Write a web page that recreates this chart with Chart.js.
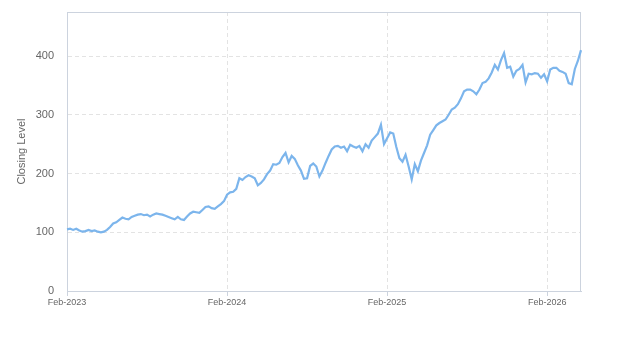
<!DOCTYPE html>
<html>
<head>
<meta charset="utf-8">
<script src="https://cdn.jsdelivr.net/npm/chart.js@4"></script>
<style>
  html, body { margin: 0; padding: 0; background: #fff; }
  #wrap { width: 623px; height: 350px; }
</style>
</head>
<body>
<div id="wrap"><canvas id="myChart" width="623" height="350"></canvas></div>
<script>
// weekly closes, one array per year starting the first week of February
const close2023 = [105,106,104,106,103,101,102,104,102,103,101,100,101,104,109,115,117,121,125,123,
  122,126,128,130,131,129,130,127,130,132,131,130,128,126,124,122,126,122,121,127,
  132,135,134,133,138,143,144,141,140,144,148,153];
const close2024 = [164,168,169,174,192,189,194,197,195,192,180,184,190,199,205,216,215,218,228,235,
  219,230,225,214,205,191,192,213,217,212,195,205,218,230,241,246,247,244,246,238,
  249,246,244,247,238,250,244,256,262,268,283,250];
const close2025 = [260,270,268,245,226,220,232,212,190,216,204,222,235,248,266,274,282,286,289,292,
  300,309,312,318,328,340,343,343,340,335,343,354,356,362,372,385,377,393,405,380,
  382,365,375,378,385,355,370,369,371,370,363,369];
const close2026 = [357,377,380,380,375,373,370,354,352,378,392,410];

const closes = [...close2023, ...close2024, ...close2025, ...close2026];

const startDate = new Date(2023, 1, 6);
const monthNames = ['Jan','Feb','Mar','Apr','May','Jun','Jul','Aug','Sep','Oct','Nov','Dec'];
const weeks = closes.map((_, i) => {
  const d = new Date(startDate);
  d.setDate(d.getDate() + i * 7);
  return d;
});
const labels = weeks.map(d => monthNames[d.getMonth()] + '-' + d.getFullYear());
// only the first week of February in each year gets a tick
const tickIdx = weeks.map((d, i) => (d.getMonth() === 1 && d.getDate() <= 7) ? i : -1).filter(i => i >= 0);

const yTicks = [0, 100, 200, 300, 400];

const frame = {
  id: 'frame',
  beforeDatasetsDraw(chart) {
    const { ctx, chartArea: { left, right, top, bottom } } = chart;
    ctx.save();
    ctx.strokeStyle = '#ccd3de';
    ctx.lineWidth = 1;
    ctx.strokeRect(left + 0.5, top + 0.5, right - left - 1, bottom - top);
    ctx.restore();
  }
};

const ctx = document.getElementById('myChart');

new Chart(ctx, {
  type: 'line',
  data: {
    labels: labels,
    datasets: [{
      label: 'Closing Level',
      data: closes,
      borderColor: '#7cb5ec',
      borderWidth: 2.2,
      pointRadius: 0,
      tension: 0,
      fill: false,
    }]
  },
  options: {
    responsive: false,
    animation: false,
    layout: { padding: { top: 12, right: 42, left: 0, bottom: 0 } },
    plugins: {
      legend: { display: false },
      tooltip: { enabled: false },
    },
    scales: {
      x: {
        type: 'category',
        offset: false,
        afterBuildTicks(scale) {
          scale.ticks = tickIdx.map(i => ({ value: i }));
        },
        afterFit(scale) {
          scale.height = 59;
          scale.paddingLeft = 0;
          scale.paddingRight = 0;
        },
        grid: {
          color: '#e3e3e3',
          tickLength: 5,
          tickColor: '#ccd3de',
        },
        border: { display: true, color: '#ccd3de', dash: [4, 3] },
        ticks: {
          autoSkip: false,
          maxRotation: 0,
          padding: 1,
          color: '#666',
          font: { family: 'Liberation Sans, Arial, sans-serif', size: 9 },
          callback(value) { return labels[value]; },
        },
      },
      y: {
        min: 0,
        max: 475,
        afterBuildTicks(scale) {
          scale.ticks = yTicks.map(v => ({ value: v }));
        },
        afterFit(scale) {
          scale.width = 67;
          scale.paddingTop = 0;
          scale.paddingBottom = 0;
        },
        grid: { color: '#e3e3e3', drawTicks: false },
        border: { display: true, color: '#ccd3de', dash: [4, 3] },
        ticks: {
          padding: 13,
          color: '#666',
          font: { family: 'Liberation Sans, Arial, sans-serif', size: 11 },
        },
        title: {
          display: true,
          text: 'Closing Level',
          color: '#666',
          padding: { top: 15, bottom: 0 },
          font: { family: 'Liberation Sans, Arial, sans-serif', size: 11 },
        },
      },
    },
  },
  plugins: [frame]
});
</script>
</body>
</html>
